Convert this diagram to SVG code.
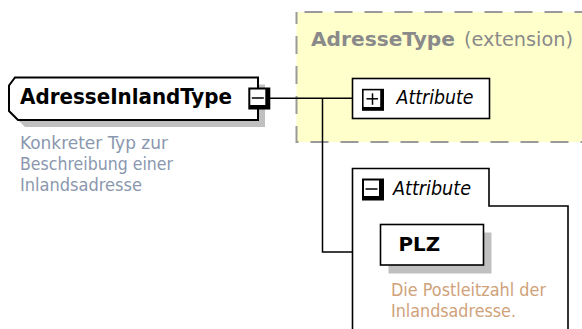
<svg xmlns="http://www.w3.org/2000/svg" width="582" height="329" viewBox="0 0 582 329">
<style>
.ln{fill:none;stroke:#000;stroke-width:1.5}
.box{fill:#fff;stroke:#000;stroke-width:1.6}
.shadow{fill:#c0c0c0}
.t{font-family:"DejaVu Sans Condensed","DejaVu Sans",sans-serif}
.bold{font-weight:bold}
.ital{font-style:italic}
.descL{fill:#8a97ae;font-size:18px}
.descR{fill:#cfa27a;font-size:18px}
</style>
<defs>
<g id="btnMinus">
<rect x="0" y="0" width="22" height="22" fill="#000"/>
<rect x="2" y="2" width="15" height="15.5" fill="#fff"/>
<line x1="3.5" y1="10.5" x2="15.5" y2="10.5" stroke="#000" stroke-width="1.5"/>
</g>
<g id="btnPlus">
<rect x="0" y="0" width="22" height="22" fill="#000"/>
<rect x="1.6" y="1.6" width="16.6" height="16.6" fill="#fff"/>
<line x1="4.5" y1="10" x2="16" y2="10" stroke="#000" stroke-width="1.5"/>
<line x1="10.5" y1="4.5" x2="10.5" y2="16" stroke="#000" stroke-width="1.5"/>
</g>
</defs>

<g id="group-adressetype">
<rect x="296.5" y="12" width="300" height="130" fill="#ffffcc" stroke="#9a9a9a" stroke-width="2" stroke-dasharray="18 12" stroke-dashoffset="-8"/>
<text x="311" y="46" font-family="'DejaVu Sans',sans-serif" font-size="19px" fill="#8a8a8a"><tspan font-weight="bold" textLength="144" lengthAdjust="spacingAndGlyphs">AdresseType</tspan><tspan x="464" textLength="109" lengthAdjust="spacingAndGlyphs">(extension)</tspan></text>
</g>

<g id="connectors">
<polyline class="ln" points="270,98.3 352,98.3"/>
<polyline class="ln" points="322.5,98.3 322.5,252 352,252"/>
</g>

<g id="node-main">
<polygon class="shadow" points="22,84.5 265,84.5 265,127 25,127 16,118 16,92.5"/>
<polygon fill="#fff" stroke="#000" stroke-width="2" points="15,77.5 258,77.5 258,120 18,120 9,111 9,85.5"/>
<text class="t bold" x="20" y="104.3" font-size="21px" textLength="212" lengthAdjust="spacingAndGlyphs">AdresseInlandType</text>
<use href="#btnMinus" x="248.3" y="87.5"/>
</g>

<g id="desc-main">
<text class="t descL" x="20" y="149" textLength="148" lengthAdjust="spacingAndGlyphs">Konkreter Typ zur</text>
<text class="t descL" x="20" y="170" textLength="153" lengthAdjust="spacingAndGlyphs">Beschreibung einer</text>
<text class="t descL" x="20" y="191" textLength="122" lengthAdjust="spacingAndGlyphs">Inlandsadresse</text>
</g>

<g id="node-attr1">
<rect class="box" x="352.5" y="78.5" width="137" height="40"/>
<use href="#btnPlus" x="362" y="88.8"/>
<text class="t ital" x="396.5" y="104" font-size="19px" textLength="77" lengthAdjust="spacingAndGlyphs">Attribute</text>
</g>

<g id="node-attr2">
<path class="box" d="M352.5,335 V168.5 H489 V206 H568 V335"/>
<use href="#btnMinus" x="362" y="178.5"/>
<text class="t ital" x="393" y="195" font-size="19px" textLength="78" lengthAdjust="spacingAndGlyphs">Attribute</text>
</g>

<g id="node-plz">
<rect class="shadow" x="388.5" y="232.5" width="103" height="41"/>
<rect class="box" x="380.5" y="224.5" width="103" height="40.5"/>
<text class="t bold" x="398.5" y="251" font-size="19px" textLength="41.5" lengthAdjust="spacingAndGlyphs">PLZ</text>
<text class="t descR" x="391" y="296" textLength="155" lengthAdjust="spacingAndGlyphs">Die Postleitzahl der</text>
<text class="t descR" x="391" y="317" textLength="125" lengthAdjust="spacingAndGlyphs">Inlandsadresse.</text>
</g>
</svg>
